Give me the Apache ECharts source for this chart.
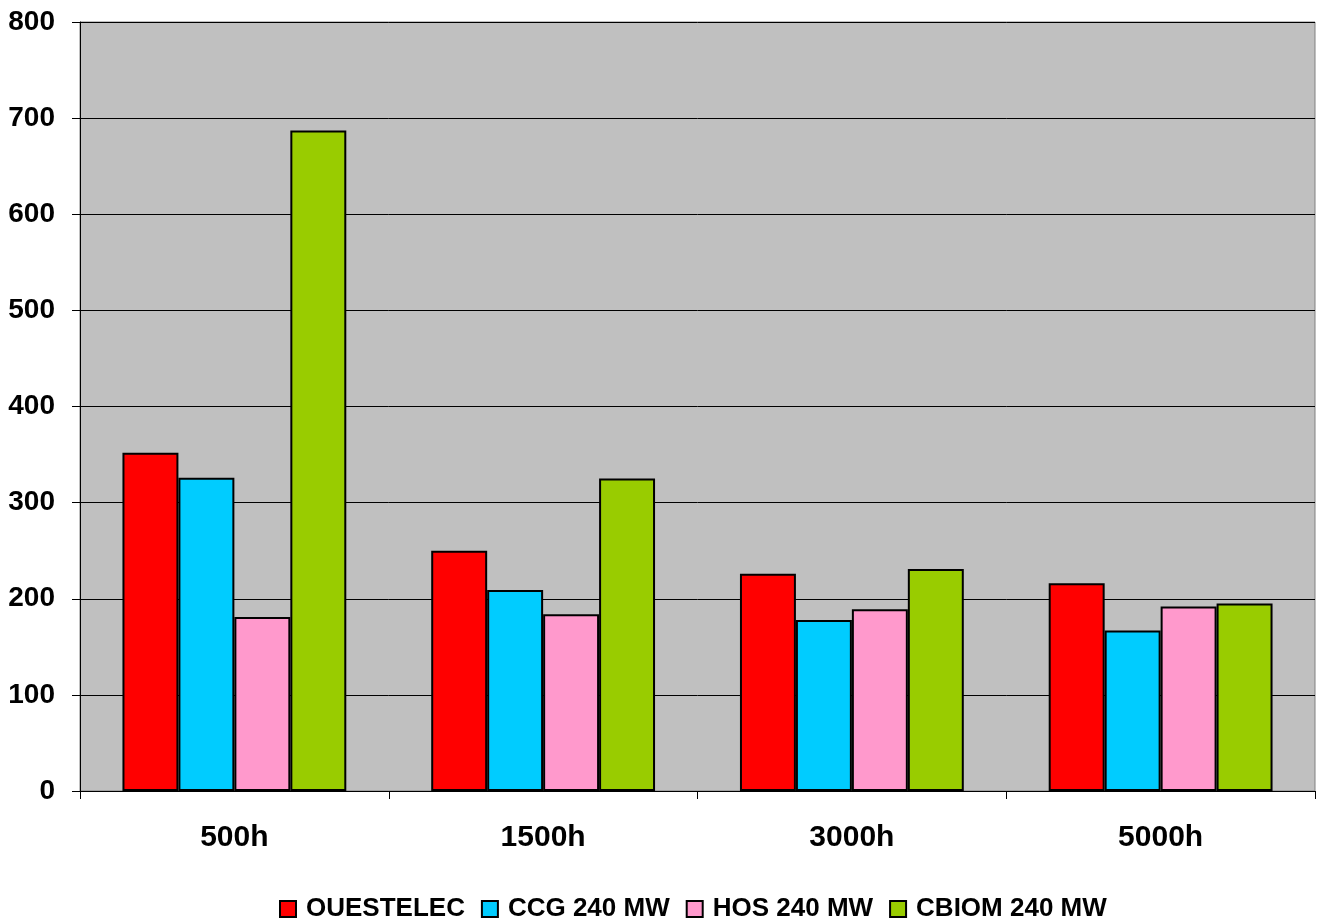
<!DOCTYPE html>
<html>
<head>
<meta charset="utf-8">
<script src="https://cdn.jsdelivr.net/npm/echarts@6/dist/echarts.min.js"></script>
<style>
  html, body { margin: 0; padding: 0; background: #ffffff; }
  #chart { width: 1321px; height: 922px; }
</style>
</head>
<body>
<div id="chart"></div>
<script>
// Durations of operation (hours per year)
const categories = ['500h', '1500h', '3000h', '5000h'];

// Cost per plant type
const seriesNames = ['OUESTELEC', 'CCG 240 MW', 'HOS 240 MW', 'CBIOM 240 MW'];
const valuesOuestelec = [352, 250, 226, 216];
const valuesCcg = [326, 209, 178, 167];
const valuesHos = [181, 184, 189, 192];
const valuesCbiom = [687, 325, 231, 195];
const seriesColors = ['#FF0000', '#00CCFF', '#FF99CC', '#99CC00'];

// Value axis ticks
const yMin = 0, yMax = 800, yStep = 100;

const font = 'Liberation Sans, Arial, sans-serif';
const allValues = [valuesOuestelec, valuesCcg, valuesHos, valuesCbiom];

const chart = echarts.init(document.getElementById('chart'));
chart.setOption({
  animation: false,
  backgroundColor: '#ffffff',
  grid: {
    left: 80, right: 6, top: 22, bottom: 131,
    show: true,
    backgroundColor: '#C0C0C0',
    borderColor: '#808080',
    borderWidth: 1
  },
  legend: {
    top: 891,
    left: 274,
    icon: 'rect',
    itemWidth: 16,
    itemHeight: 16,
    itemGap: 16,
    textStyle: { fontFamily: font, fontWeight: 'bold', fontSize: 26, color: '#000', padding: [0, 0, 0, 5] },
    itemStyle: { borderColor: '#000', borderWidth: 2 },
    data: seriesNames
  },
  xAxis: {
    type: 'category',
    data: categories,
    axisLine: { show: true, lineStyle: { color: '#000', width: 1 } },
    axisTick: { show: true, length: 8, lineStyle: { color: '#000' } },
    axisLabel: { margin: 32, fontFamily: font, fontWeight: 'bold', fontSize: 30, color: '#000' }
  },
  yAxis: {
    type: 'value',
    min: yMin, max: yMax, interval: yStep,
    axisLine: { show: true, lineStyle: { color: '#000', width: 1 } },
    axisTick: { show: true, length: 8, lineStyle: { color: '#000' } },
    splitLine: { show: true, lineStyle: { color: '#000', width: 1 } },
    axisLabel: { margin: 25, fontFamily: font, fontWeight: 'bold', fontSize: 28, color: '#000' }
  },
  series: seriesNames.map((name, i) => ({
    name: name,
    type: 'bar',
    data: allValues[i],
    barGap: '0%',
    barCategoryGap: '27.5%',
    itemStyle: { color: seriesColors[i], borderColor: '#000', borderWidth: 2 }
  }))
});
</script>
</body>
</html>
